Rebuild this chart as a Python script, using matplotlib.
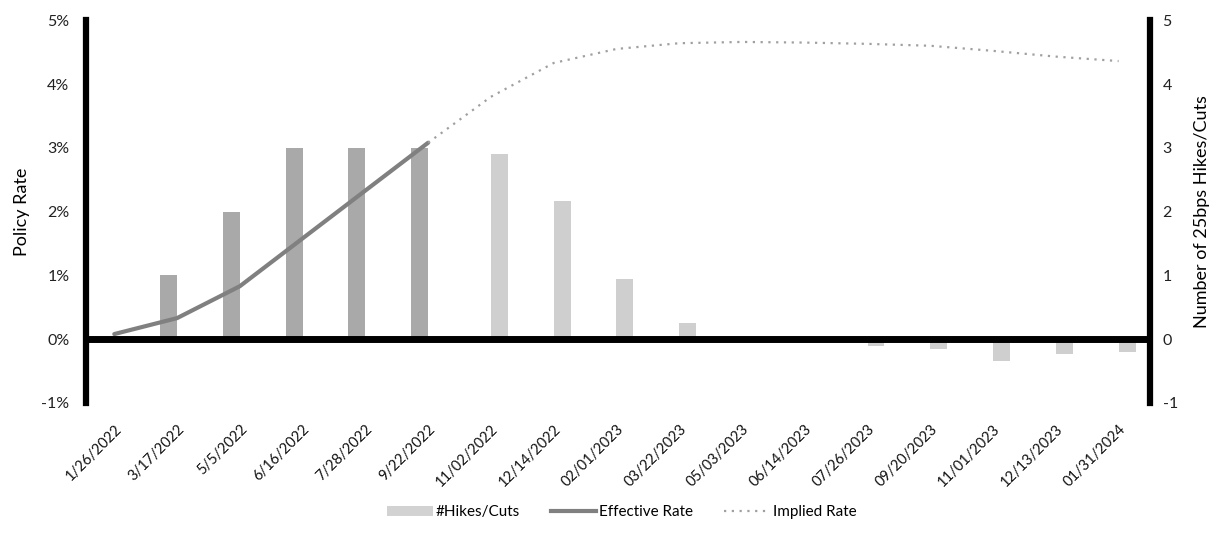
import matplotlib.pyplot as plt
import numpy as np
from matplotlib.patches import Patch
from matplotlib.lines import Line2D

plt.rcParams['font.family'] = ['Lato', 'DejaVu Sans']

dates = ["1/26/2022", "3/17/2022", "5/5/2022", "6/16/2022", "7/28/2022",
         "9/22/2022", "11/02/2022", "12/14/2022", "02/01/2023", "03/22/2023",
         "05/03/2023", "06/14/2023", "07/26/2023", "09/20/2023", "11/01/2023",
         "12/13/2023", "01/31/2024"]

# hikes already done (darker) and implied by futures (lighter), in 25bp steps
hikes_actual = [0, 1, 2, 3, 3, 3, 0, 0, 0, 0, 0, 0, 0, 0, 0, 0, 0]
hikes_implied = [0, 0, 0, 0, 0, 0, 2.9, 2.16, 0.94, 0.25, 0, 0,
                 -0.1, -0.15, -0.34, -0.24, -0.2]

effective_rate = [0.08, 0.33, 0.83, 1.58, 2.33, 3.08]
implied_rate = [3.08, 3.80, 4.33, 4.55, 4.64, 4.66, 4.65, 4.63, 4.60,
                4.52, 4.43, 4.36]

x = np.arange(len(dates))

fig = plt.figure(figsize=(12.31, 5.33), dpi=100)
ax = fig.add_axes([0.0699, 0.244, 0.8643, 0.718])
ax2 = ax.twinx()

# bars on the right axis
w = 0.27
ax2.bar(x - 0.135, hikes_actual, width=w, color='#a9a9a9', zorder=2)
ax2.bar(x + 0.135, hikes_implied, width=w, color='#cfcfcf', zorder=2)

# rates on the left axis
ax.plot(x[:len(effective_rate)], effective_rate, color='#808080', lw=3,
        solid_capstyle='round', zorder=3)
ax.plot(x[5:5 + len(implied_rate)], implied_rate, color='#a0a0a0', lw=1.6,
        linestyle=(0, (1, 2.5)), zorder=3)

ax.set_zorder(ax2.get_zorder() + 1)
ax.patch.set_visible(False)

ax.set_xlim(-0.45, 16.5)
ax.set_ylim(-1, 5)
ax2.set_ylim(-1, 5)

ax.axhline(0, color='black', lw=5, zorder=4)

for a in (ax, ax2):
    for s in ('top', 'bottom', 'left', 'right'):
        a.spines[s].set_visible(False)
ax.spines['left'].set_visible(True)
ax.spines['left'].set_linewidth(4.5)
ax2.spines['right'].set_visible(True)
ax2.spines['right'].set_linewidth(4.5)

ax.set_yticks(range(-1, 6))
ax.set_yticklabels([f"{v}%" for v in range(-1, 6)])
ax2.set_yticks(range(-1, 6))
ax2.set_yticklabels([str(v) for v in range(-1, 6)])
ax.tick_params(axis='y', length=0, pad=12, labelsize=11.5, labelcolor='#222222')
ax2.tick_params(axis='y', length=0, pad=9, labelsize=11.5, labelcolor='#222222')

ax.set_xticks(x)
ax.set_xticklabels(dates, rotation=45, ha='right', rotation_mode='anchor')
ax.tick_params(axis='x', length=0, pad=14, labelsize=10.5, labelcolor='#111111')

ax.set_ylabel("Policy Rate", fontsize=13, labelpad=8)
ax2.set_ylabel("Number of 25bps Hikes/Cuts", fontsize=13, labelpad=12)

handles = [Patch(facecolor='#d2d2d2', edgecolor='none'),
           Line2D([0], [0], color='#808080', lw=3),
           Line2D([0], [0], color='#a0a0a0', lw=1.6, linestyle=(0, (1, 2.5)))]
labels = ["#Hikes/Cuts", "Effective Rate", "Implied Rate"]
fig.legend(handles, labels, loc='lower center', bbox_to_anchor=(0.505, 0.0),
           ncol=3, frameon=False, fontsize=11, handlelength=3, handleheight=0.7,
           columnspacing=2.0, handletextpad=0.2)

fig.savefig("out.png", dpi=100)
